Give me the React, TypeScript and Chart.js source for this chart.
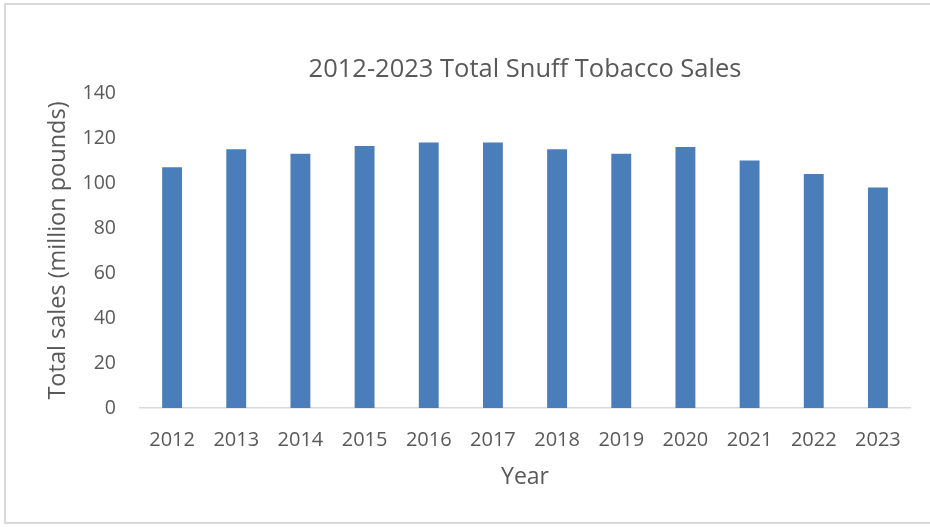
import React, { useEffect, useRef } from "react";
import { Chart, registerables } from "chart.js";

Chart.register(...registerables);

const years = ["2012", "2013", "2014", "2015", "2016", "2017", "2018", "2019", "2020", "2021", "2022", "2023"];
const sales = [107, 115, 113, 116.5, 118, 118, 115, 113, 116, 110, 104, 98];
const yMin = 0;
const yMax = 140;
const yStep = 20;

const FONT = "'Open Sans', sans-serif";
const TEXT = "#595959";

export default function App() {
  const ref = useRef<HTMLCanvasElement | null>(null);

  useEffect(() => {
    if (!ref.current) return;
    const chart = new Chart(ref.current, {
      type: "bar",
      data: {
        labels: years,
        datasets: [
          {
            label: "Total sales",
            data: sales,
            backgroundColor: "#4A7EBB",
            borderWidth: 0,
            barPercentage: 0.31,
            categoryPercentage: 1,
          },
        ],
      },
      options: {
        animation: false,
        responsive: false,
        maintainAspectRatio: false,
        layout: { padding: { left: 0, right: 20, top: 0, bottom: 0 } },
        plugins: {
          legend: { display: false },
          tooltip: { enabled: false },
          title: {
            display: true,
            fullSize: false,
            text: "2012-2023 Total Snuff Tobacco Sales",
            color: TEXT,
            font: { family: FONT, size: 25.5, weight: "normal" },
            padding: { top: 54.7, bottom: 7.7 },
          },
        },
        scales: {
          x: {
            grid: { display: false, drawTicks: false },
            border: { display: true, color: "#D9D9D9", width: 1.5 },
            ticks: {
              color: TEXT,
              font: { family: FONT, size: 20 },
              padding: 20,
              maxRotation: 0,
              autoSkip: false,
            },
            title: {
              display: true,
              text: "Year",
              color: TEXT,
              font: { family: FONT, size: 23 },
              padding: { top: 0, bottom: 35.5 },
            },
            afterFit: (s: any) => {
              s.height = 527 - 408;
            },
          },
          y: {
            min: yMin,
            max: yMax,
            grid: { display: false, drawTicks: false },
            border: { display: false },
            ticks: {
              stepSize: yStep,
              color: TEXT,
              font: { family: FONT, size: 19.5 },
              padding: 24,
            },
            title: {
              display: true,
              text: "Total sales (million pounds)",
              color: TEXT,
              font: { family: FONT, size: 23.5 },
              padding: { top: 44, bottom: 0 },
            },
            afterFit: (s: any) => {
              s.width = 140;
            },
          },
        },
      },
    });
    return () => chart.destroy();
  }, []);

  return (
    <div style={{ position: "fixed", left: 0, top: 0, width: 930, height: 527, background: "#fff", overflow: "hidden" }}>
      <div
        style={{
          position: "absolute",
          left: 4,
          top: 3,
          width: 940,
          height: 521,
          border: "2px solid #D9D9D9",
          boxSizing: "border-box",
        }}
      />
      <canvas ref={ref} width={930} height={527} style={{ position: "absolute", left: 0, top: 0 }} />
    </div>
  );
}
